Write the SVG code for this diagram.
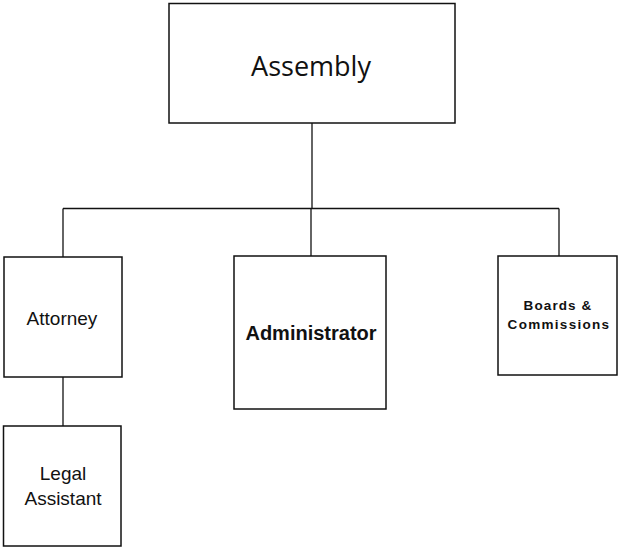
<svg xmlns="http://www.w3.org/2000/svg" width="618" height="549" viewBox="0 0 618 549">
  <style>
    .box { fill: #ffffff; stroke: #111111; stroke-width: 1.5; }
    .wire { fill: none; stroke: #111111; stroke-width: 1.3; }
    .lbl { font-family: "Liberation Sans", Arial, sans-serif; fill: #111111; text-anchor: middle; }
    .title { font-family: "Open Sans", "Noto Sans", sans-serif; fill: #111111; text-anchor: middle; font-size: 27px; }
    .bold { font-weight: bold; }
  </style>
  <rect width="618" height="549" fill="#ffffff"/>

  <!-- connectors -->
  <g id="connectors">
    <line class="wire" x1="312" y1="123" x2="312" y2="208.5"/>
    <line class="wire" x1="63" y1="208.5" x2="559" y2="208.5"/>
    <line class="wire" x1="63" y1="208.5" x2="63" y2="257"/>
    <line class="wire" x1="311" y1="208.5" x2="311" y2="256"/>
    <line class="wire" x1="559" y1="208.5" x2="559" y2="256"/>
    <line class="wire" x1="63" y1="377" x2="63" y2="426"/>
  </g>

  <g id="assembly">
    <rect class="box" x="169" y="3.5" width="286" height="119.5"/>
    <text class="title" x="311" y="76">Assembly</text>
  </g>

  <g id="attorney">
    <rect class="box" x="4" y="257" width="118" height="120"/>
    <text class="lbl" x="62" y="325" font-size="19">Attorney</text>
  </g>

  <g id="legal-assistant">
    <rect class="box" x="3.5" y="426" width="117.5" height="120"/>
    <text class="lbl" x="63" y="480" font-size="19">Legal</text>
    <text class="lbl" x="63" y="505" font-size="19">Assistant</text>
  </g>

  <g id="administrator">
    <rect class="box" x="234" y="256" width="152" height="153"/>
    <text class="lbl bold" x="311" y="340" font-size="20">Administrator</text>
  </g>

  <g id="boards">
    <rect class="box" x="498" y="256" width="119" height="119"/>
    <text class="lbl bold" x="558" y="310" font-size="13.5" letter-spacing="1.1">Boards &amp;</text>
    <text class="lbl bold" x="559" y="329" font-size="13.5" letter-spacing="1.3">Commissions</text>
  </g>
</svg>
